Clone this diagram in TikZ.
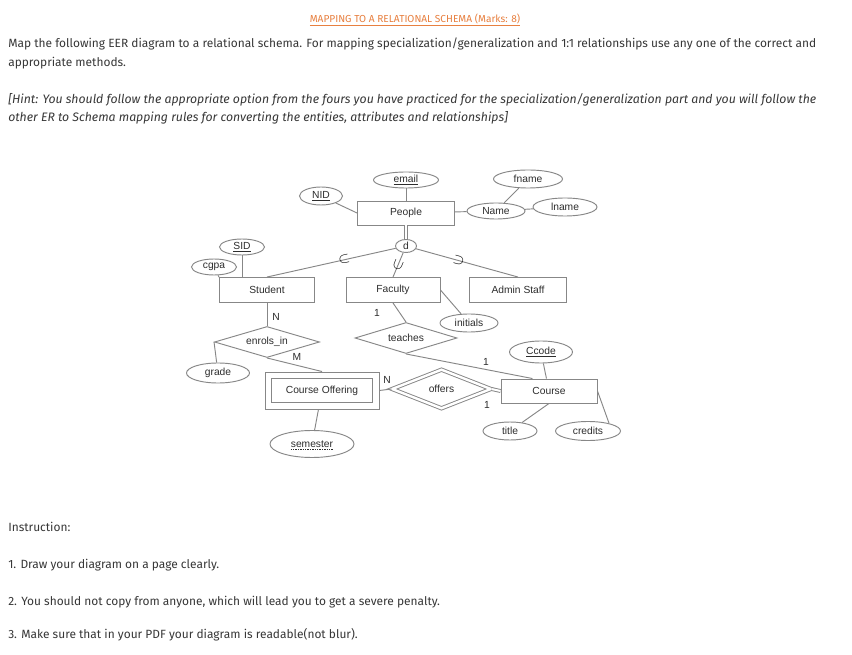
\documentclass[tikz,border=0pt]{standalone}
\usepackage{fontspec}
\setmainfont{Fira Sans}
\newfontfamily\erfont{Liberation Sans}
\definecolor{hworange}{RGB}{232,128,64}
\definecolor{hwtext}{RGB}{55,55,55}
\definecolor{erline}{RGB}{135,135,135}
\definecolor{ertext}{RGB}{45,45,45}
\usetikzlibrary{shapes.geometric,positioning}

\begin{document}
\begin{tikzpicture}[x=0.75pt, y=-0.75pt,
  para/.style={anchor=west, inner sep=0pt, text=hwtext, font=\fontsize{8.95}{10}\selectfont},
  hintpara/.style={para, font=\fontsize{9.2}{10}\selectfont\itshape},
  entity/.style={draw=erline, line width=0.7pt, rectangle, inner sep=0pt, text=ertext, font=\erfont\fontsize{7.7}{9}\selectfont},
  attrib/.style={draw=erline, line width=0.7pt, ellipse, inner sep=0pt, text=ertext, font=\erfont\fontsize{7.7}{9}\selectfont},
  relship/.style={draw=erline, line width=0.7pt, diamond, aspect=3.4, inner sep=0pt, text=ertext, font=\erfont\fontsize{7.7}{9}\selectfont},
  link/.style={draw=erline, line width=0.7pt},
  card/.style={inner sep=0pt, text=ertext, font=\erfont\fontsize{7.7}{9}\selectfont},
  subsetmark/.style={sloped, allow upside down, inner sep=0pt, text=black, font=\fontsize{11}{11}\selectfont}]
  \fill[white] (0,0) rectangle (852,655);
  \useasboundingbox (0,0) rectangle (852,655);

  % task text
  \node[inner sep=0pt, text=hworange, font=\fontsize{7.6}{8}\selectfont] (heading) at (415,20) {\underline{MAPPING TO A RELATIONAL SCHEMA (Marks: 8)}};
  \node[para] (task1) at (8,44) {Map the following EER diagram to a relational schema. For mapping specialization/generalization and 1:1 relationships use any one of the correct and};
  \node[para] (task2) at (8,63) {appropriate methods.};
  \node[hintpara] (hint1) at (8,100) {[Hint: You should follow the appropriate option from the fours you have practiced for the specialization/generalization part and you will follow the};
  \node[hintpara] (hint2) at (8,118) {other ER to Schema mapping rules for converting the entities, attributes and relationships]};

  % entities
  \node[entity, minimum width=72.75pt, minimum height=18pt] (people) at (406,213) {People};
  \node[entity, minimum width=71.25pt, minimum height=18.75pt] (student) at (267,290) {Student};
  \node[entity, minimum width=70.5pt, minimum height=18.75pt] (faculty) at (393,290) {Faculty};
  \node[entity, minimum width=72.75pt, minimum height=18.75pt] (admin) at (518,290) {Admin Staff};
  \node[entity, minimum width=85.5pt, minimum height=27.75pt] (offering) at (322,390.5) {Course Offering};
  \draw[link] ([shift={(5.5pt,-5.25pt)}]offering.north west) rectangle ([shift={(-5.5pt,5.25pt)}]offering.south east);
  \node[entity, minimum width=72pt, minimum height=18pt] (course) at (549,391) {Course};

  % attributes
  \node[attrib, minimum width=48.75pt, minimum height=12pt] (email) at (406,180) {\underline{email}};
  \node[attrib, minimum width=32.25pt, minimum height=13.5pt] (nid) at (321,196) {\underline{NID}};
  \node[attrib, minimum width=43.5pt, minimum height=12pt] (name) at (496,211) {Name};
  \node[attrib, minimum width=51.75pt, minimum height=13.5pt] (fname) at (528,179) {fname};
  \node[attrib, minimum width=48pt, minimum height=13.5pt] (lname) at (565,207) {lname};
  \node[attrib, minimum width=33.75pt, minimum height=12pt] (sid) at (242,247) {\underline{SID}};
  \node[attrib, minimum width=33.75pt, minimum height=12pt] (cgpa) at (214,267) {cgpa};
  \node[attrib, minimum width=47.25pt, minimum height=15pt] (grade) at (218,373) {grade};
  \node[attrib, minimum width=43.5pt, minimum height=13.5pt] (initials) at (469,323) {initials};
  \node[attrib, minimum width=63pt, minimum height=20.25pt] (semester) at (312,444) {semester};
  \draw[ertext, line width=0.4pt, dash pattern=on 1pt off 0.8pt] ([xshift=-16pt, yshift=-4pt]semester.center) -- ([xshift=16pt, yshift=-4pt]semester.center);
  \node[attrib, minimum width=47.25pt, minimum height=16.5pt] (ccode) at (541,352) {\underline{Ccode}};
  \node[attrib, minimum width=40.5pt, minimum height=13.5pt] (title) at (510,431) {title};
  \node[attrib, minimum width=48.75pt, minimum height=14.25pt] (credits) at (588,431) {credits};

  % specialization circle
  \node[attrib, minimum width=15.75pt, minimum height=9.75pt] (disj) at (406,246) {d};

  % relationships
  \node[relship, minimum width=78.75pt, minimum height=23.25pt] (enrols) at (267,342) {enrols\_in};
  \node[relship, minimum width=76.5pt, minimum height=23.25pt] (teaches) at (406,338) {teaches};
  \node[relship, double=white, double distance=1.8pt, minimum width=74.25pt, minimum height=29.25pt] (offers) at (441.5,389) {offers};

  % attribute links
  \draw[link] (email) -- (people);
  \draw[link] (nid) -- (people.west);
  \draw[link] (people) -- (name);
  \draw[link] (name) -- (fname);
  \draw[link] (name) -- (lname);
  \draw[link] (sid) -- (student.north -| sid);
  \draw[link] (cgpa) -- (student.165);
  \draw[link] (enrols.west) -- (grade);
  \draw[link] (faculty.east) -- (initials);
  \draw[link] (offering) -- (semester);
  \draw[link] (ccode) -- (course);
  \draw[link] (course.south) -- (title);
  \draw[link] (course.east) -- (credits.20);

  % specialization
  \draw[link, double=white, double distance=1.5pt] (people) -- (disj);
  \draw[link] (disj) -- node[subsetmark, pos=0.4] {$\supset$} (student.north);
  \draw[link] (disj) -- node[subsetmark, pos=0.5] {$\supset$} (faculty.north);
  \draw[link] (disj) -- node[subsetmark, pos=0.42] {$\supset$} (admin.north);

  % relationship links
  \draw[link] (student) -- (enrols);
  \draw[link] (enrols.south) -- (offering.north);
  \draw[link] (faculty.south) -- (teaches.north);
  \draw[link] (teaches.south) -- (course.143);
  \draw[link] (offering.east) -- (offers.west);
  \draw[link, double=white, double distance=1.5pt] (offers.east) -- (course.west);

  % cardinalities
  \node[card] (cardsn) at (276,317) {N};
  \node[card] (cardem) at (297,357) {M};
  \node[card] (cardft) at (377,313) {1};
  \node[card] (cardco) at (387,380) {N};
  \node[card] (cardtc) at (486,362) {1};
  \node[card] (cardoc) at (487,405) {1};

  % instructions
  \node[para] (instr) at (8,527) {Instruction:};
  \node[para] (instr1) at (8,565) {1. Draw your diagram on a page clearly.};
  \node[para] (instr2) at (8,602) {2. You should not copy from anyone, which will lead you to get a severe penalty.};
  \node[para] (instr3) at (8,635) {3. Make sure that in your PDF your diagram is readable(not blur).};
\end{tikzpicture}
\end{document}
